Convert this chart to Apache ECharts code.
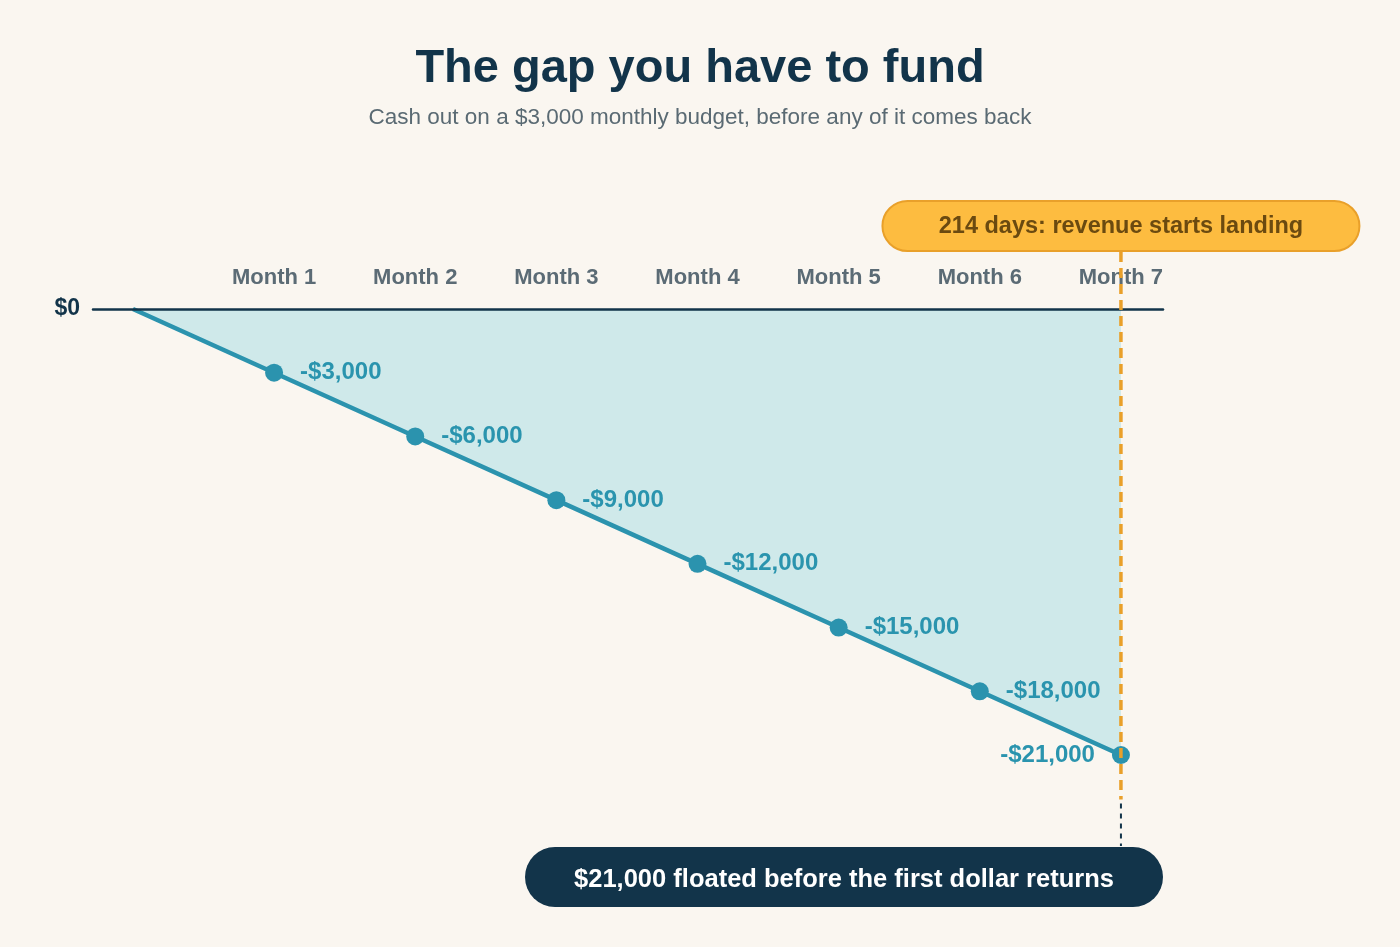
<!DOCTYPE html>
<html>
<head>
<meta charset="utf-8">
<script src="https://cdn.jsdelivr.net/npm/echarts@6/dist/echarts.min.js"></script>
<style>
  html, body { margin: 0; padding: 0; background: #faf6f0; }
  #chart { width: 1400px; height: 947px; }
</style>
</head>
<body>
<div id="chart"></div>
<script>
const months = [0, 1, 2, 3, 4, 5, 6, 7]
const monthLabels = ['', 'Month 1', 'Month 2', 'Month 3', 'Month 4', 'Month 5', 'Month 6', 'Month 7']
const cashOut = [0, -3000, -6000, -9000, -12000, -15000, -18000, -21000]
const revenueMonth = 7
const topNote = '214 days: revenue starts landing'
const bottomNote = '$21,000 floated before the first dollar returns'

const FONT = '"Liberation Sans", Arial, sans-serif'
const NAVY = '#12344a'
const TEAL = '#2b93ae'
const ORANGE = '#e9a02a'

function money(v) {
  return (v < 0 ? '-$' : '$') + Math.abs(v).toLocaleString('en-US')
}

const points = months.map((m, i) => ({
  value: [m, cashOut[i]],
  symbolSize: i === 0 ? 0 : 18,
  label: {
    show: i > 0,
    position: i === months.length - 1 ? 'left' : 'right',
    distance: 17
  }
}))

const GRID = { left: 93, right: 237, top: 309, bottom: 147.4 }

const chart = echarts.init(document.getElementById('chart'))

chart.setOption({
  backgroundColor: '#faf6f0',
  animation: false,
  textStyle: { fontFamily: FONT },
  title: {
    text: 'The gap you have to fund',
    subtext: 'Cash out on a $3,000 monthly budget, before any of it comes back',
    left: 'center',
    top: 41,
    itemGap: 13,
    textStyle: { fontFamily: FONT, fontSize: 47, fontWeight: 'bold', color: NAVY },
    subtextStyle: { fontFamily: FONT, fontSize: 22.5, color: '#5a6a73' }
  },
  grid: GRID,
  xAxis: {
    type: 'value',
    position: 'top',
    min: -0.283,
    max: 7.298,
    z: 5,
    axisLine: { show: true, onZero: false, lineStyle: { color: NAVY, width: 2.5 } },
    axisTick: { show: false },
    splitLine: { show: false },
    axisLabel: {
      customValues: [1, 2, 3, 4, 5, 6, 7],
      formatter: v => monthLabels[Math.round(v)],
      margin: 20,
      fontFamily: FONT,
      fontSize: 22,
      fontWeight: 'bold',
      color: '#5b6b75'
    }
  },
  yAxis: {
    type: 'value',
    min: -23100,
    max: 0,
    axisLine: { show: false },
    axisTick: { show: false },
    splitLine: { show: false },
    axisLabel: {
      customValues: [0],
      formatter: v => money(v),
      margin: 13,
      fontFamily: FONT,
      fontSize: 23,
      fontWeight: 'bold',
      color: NAVY
    }
  },
  series: [
    {
      type: 'line',
      data: points,
      symbol: 'circle',
      showSymbol: true,
      lineStyle: { color: TEAL, width: 4.5 },
      itemStyle: { color: TEAL },
      areaStyle: { color: '#cfe9ea', opacity: 1 },
      label: {
        formatter: p => money(p.value[1]),
        fontFamily: FONT,
        fontSize: 24,
        fontWeight: 'bold',
        color: '#2a94ae'
      },
      z: 2
    }
  ]
})

// annotations tied to the revenue month position
const lineX = chart.convertToPixel({ xAxisIndex: 0 }, revenueMonth)
const gridBottom = 947 - GRID.bottom
const gridRight = 1400 - GRID.right
const topBoxW = 477
const botBoxX = 525

chart.setOption({
  graphic: [
    {
      type: 'line',
      shape: { x1: lineX, y1: 252, x2: lineX, y2: gridBottom },
      style: { stroke: ORANGE, lineWidth: 3.5, lineDash: [10, 6] },
      z: 15
    },
    {
      type: 'line',
      shape: { x1: lineX, y1: gridBottom + 4, x2: lineX, y2: 846 },
      style: { stroke: NAVY, lineWidth: 2, lineDash: [5, 5] },
      z: 15
    },
    {
      type: 'rect',
      shape: { x: botBoxX, y: 847, width: gridRight - botBoxX, height: 60, r: 30 },
      style: { fill: NAVY },
      z: 20
    },
    {
      type: 'text',
      x: (botBoxX + gridRight) / 2,
      y: 880,
      style: {
        text: bottomNote,
        fill: '#ffffff',
        font: 'bold 25.5px ' + FONT,
        align: 'center',
        verticalAlign: 'middle'
      },
      z: 21
    },
    {
      type: 'rect',
      shape: { x: lineX - topBoxW / 2, y: 201, width: topBoxW, height: 50, r: 25 },
      style: { fill: '#fdbc40', stroke: ORANGE, lineWidth: 2 },
      z: 20
    },
    {
      type: 'text',
      x: lineX,
      y: 227,
      style: {
        text: topNote,
        fill: '#6b4a10',
        font: 'bold 23.5px ' + FONT,
        align: 'center',
        verticalAlign: 'middle'
      },
      z: 21
    }
  ]
})
</script>
</body>
</html>
